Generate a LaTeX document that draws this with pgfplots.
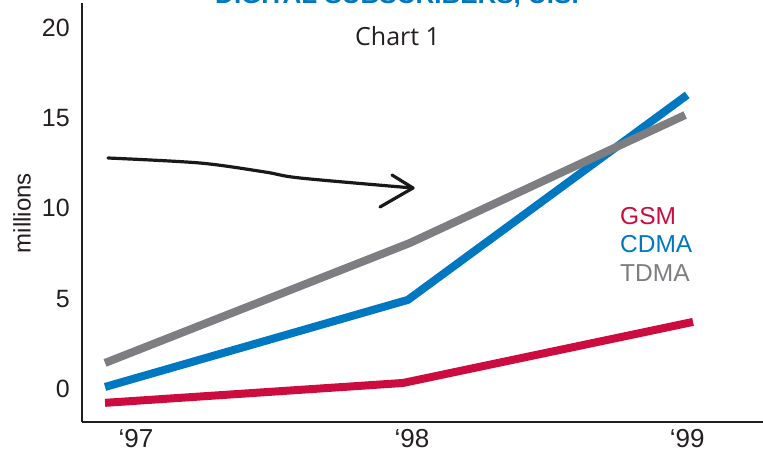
\documentclass[border=0pt]{standalone}
\usepackage{pgfplots}
\pgfplotsset{compat=1.18}
\usepackage{fontspec}
\setmainfont{Liberation Sans}
\newfontfamily\chartfont{Open Sans}

\definecolor{gsmred}{HTML}{CC0C3F}
\definecolor{cdmablue}{HTML}{0078C1}
\definecolor{tdmagray}{HTML}{7E7E82}
\definecolor{inkdark}{HTML}{231F20}

\begin{document}
\begin{tikzpicture}[x=1pt,y=1pt]
\begin{axis}[
  at={(82pt,34pt)}, anchor=south west,
  scale only axis, width=681pt, height=419pt,
  xmin=-0.079, xmax=2.257,
  ymin=-1.83, ymax=21.36,
  axis x line*=bottom, axis y line*=left,
  axis line style={line width=2pt, color=inkdark, -},
  major tick length=0pt,
  xtick={0.106,1.053,1.997},
  xticklabels={‘97,‘98,‘99},
  ytick={0,5,10,15,20},
  /pgf/number format/assume math mode=true,
  tick label style={font=\fontsize{25}{30}\selectfont, color=inkdark},
  xticklabel style={anchor=north, inner sep=0pt, yshift=-7pt, font=\fontsize{26}{30}\selectfont},
  yticklabel style={anchor=east, inner sep=0pt, xshift=-12pt},
  every axis plot/.append style={line width=8pt, line cap=butt, line join=miter},
  clip=false,
]
% GSM
\addplot[gsmred] coordinates {(0,-0.77) (1.022,0.33) (2.017,3.71)};
% CDMA
\addplot[cdmablue] coordinates {(0,0.11) (1.039,4.93) (1.997,16.27)};
% TDMA
\addplot[tdmagray] coordinates {(0,1.44) (1.046,8.08) (1.99,15.16)};
\end{axis}

% headings
\node[anchor=base, text=cdmablue, font=\fontsize{26}{30}\selectfont\bfseries]
  at (397,452) {DIGITAL SUBSCRIBERS, U.S.};
\node[anchor=base west, inner sep=0pt, text=inkdark, font=\chartfont\fontsize{25}{30}\selectfont]
  at (355,410) {Chart 1};
\node[rotate=90, text=inkdark, font=\fontsize{24}{28}\selectfont]
  at (22,243) {millions};

% series names
\node[anchor=base west, inner sep=0pt, text=gsmred, font=\fontsize{24.5}{28}\selectfont] at (620,232) {GSM};
\node[anchor=base west, inner sep=0pt, text=cdmablue, font=\fontsize{24.5}{28}\selectfont] at (620,204) {CDMA};
\node[anchor=base west, inner sep=0pt, text=tdmagray, font=\fontsize{24.5}{28}\selectfont] at (620,175) {TDMA};

% hand-drawn arrow
\draw[line width=3.2pt, line cap=round, line join=round, black!90]
  plot[smooth, tension=0.5] coordinates {(108,298) (200,293) (265,284) (300,278) (413,268)};
\draw[line width=3.2pt, line cap=round, line join=round, black!90]
  (392,281) -- (413,268) -- (380,249);

\pgfresetboundingbox
\path[use as bounding box] (0,0) rectangle (763,456);
\end{tikzpicture}
\end{document}
